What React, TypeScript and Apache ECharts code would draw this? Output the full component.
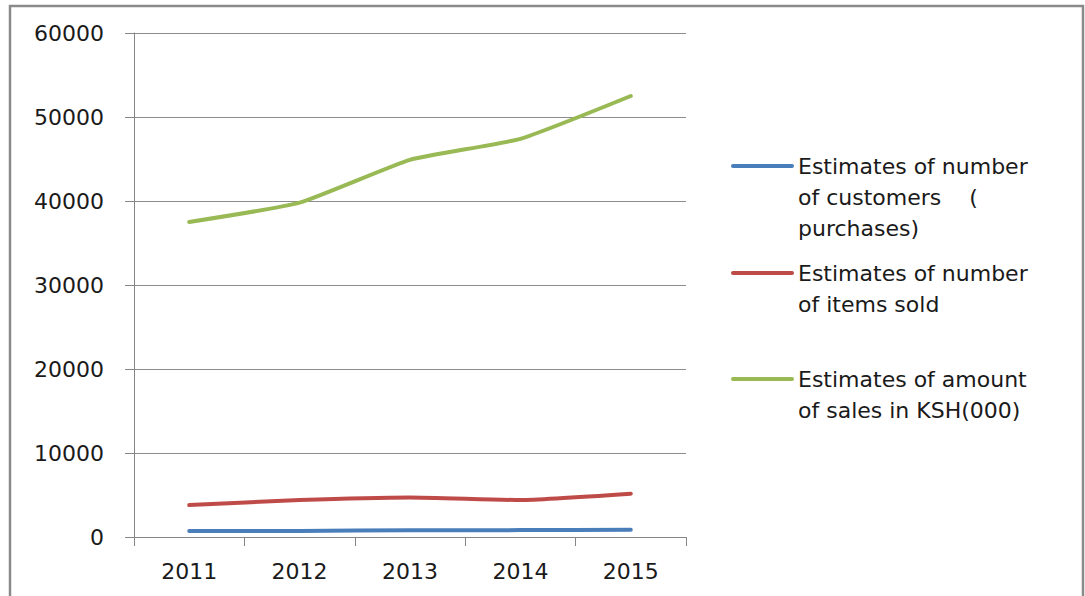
import React, { useEffect, useRef } from "react";
import * as echarts from "echarts";

const years = ["2011", "2012", "2013", "2014", "2015"];
const customers = [700, 720, 800, 820, 850];
const itemsSold = [3800, 4400, 4700, 4400, 5150];
const salesAmount = [37500, 39800, 44900, 47400, 52500];
const yTicks = { min: 0, max: 60000, interval: 10000 };

const seriesNames = [
  "Estimates of number of customers    ( purchases)",
  "Estimates of number of items sold",
  "Estimates of amount of sales in KSH(000)",
];
const legendLines = [
  ["Estimates of number", "of customers    (", "purchases)"],
  ["Estimates of number", "of items sold"],
  ["Estimates of amount", "of sales in KSH(000)"],
];
const colors = ["#4a7ebb", "#be4b48", "#98b954"];

const FONT = "'DejaVu Sans', Verdana, sans-serif";

export default function App() {
  const ref = useRef<HTMLDivElement>(null);
  useEffect(() => {
    if (!ref.current) return;
    const chart = echarts.init(ref.current, null, { renderer: "svg" });
    const legendY = [166, 273, 379];
    const lineH = 31;
    const graphics: any[] = [
      {
        type: "rect",
        shape: { x: 10, y: 6, width: 1073, height: 620 },
        style: { fill: "none", stroke: "#8a8a8a", lineWidth: 2.5 },
        silent: true,
      },
    ];
    legendLines.forEach((lines, i) => {
      graphics.push({
        type: "line",
        shape: { x1: 733, y1: legendY[i], x2: 792, y2: legendY[i] },
        style: { stroke: colors[i], lineWidth: 4, lineCap: "round" },
      });
      lines.forEach((t, j) => {
        graphics.push({
          type: "text",
          x: 798,
          y: legendY[i] + j * lineH,
          style: {
            text: t,
            font: `22px ${FONT}`,
            fill: "#1a1a1a",
            verticalAlign: "middle",
            align: "left",
          },
        });
      });
    });
    const data = [customers, itemsSold, salesAmount];
    chart.setOption({
      animation: false,
      backgroundColor: "#ffffff",
      grid: { left: 134, right: 399, top: 33, bottom: 59 },
      xAxis: {
        type: "category",
        data: years,
        boundaryGap: true,
        axisLine: { lineStyle: { color: "#868686", width: 1 } },
        axisTick: { show: true, length: 9, lineStyle: { color: "#868686" } },
        axisLabel: { color: "#1a1a1a", fontSize: 22, fontFamily: FONT, margin: 23 },
      },
      yAxis: {
        type: "value",
        min: yTicks.min,
        max: yTicks.max,
        interval: yTicks.interval,
        axisLine: { show: true, lineStyle: { color: "#868686", width: 1 } },
        axisTick: { show: true, length: 9, lineStyle: { color: "#868686" } },
        splitLine: { show: true, lineStyle: { color: "#8c8c8c", width: 1 } },
        axisLabel: {
          color: "#1a1a1a",
          fontSize: 22,
          fontFamily: FONT,
          margin: 30,
          formatter: (v: number) => String(v),
        },
      },
      series: data.map((d, i) => ({
        name: seriesNames[i],
        type: "line",
        data: d,
        smooth: 0.15,
        symbol: "none",
        lineStyle: { color: colors[i], width: 4, cap: "round" },
        itemStyle: { color: colors[i] },
      })),
      graphic: graphics,
    });
    return () => chart.dispose();
  }, []);
  return (
    <div
      ref={ref}
      style={{ position: "fixed", left: 0, top: 0, width: 1085, height: 596 }}
    />
  );
}
